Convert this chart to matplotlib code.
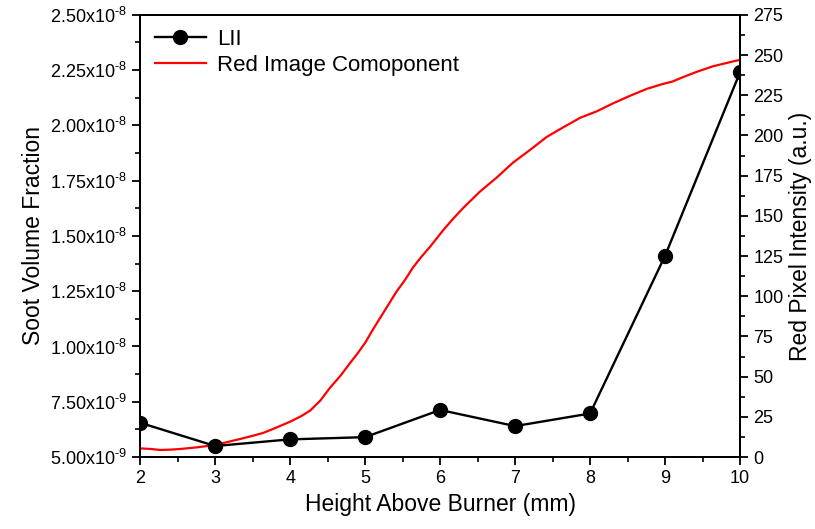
import matplotlib
matplotlib.use('Agg')
import matplotlib.pyplot as plt
from matplotlib.ticker import MultipleLocator, FuncFormatter

plt.rcParams['font.family'] = ['Liberation Sans', 'DejaVu Sans']
plt.rcParams['mathtext.fontset'] = 'custom'
plt.rcParams['mathtext.rm'] = 'Liberation Sans'

# LII soot volume fraction (left axis)
lii_x = [2, 3, 4, 5, 6, 7, 8, 9, 10]
lii_y = [6.55e-9, 5.5e-9, 5.8e-9, 5.9e-9, 7.13e-9, 6.4e-9, 6.97e-9, 1.41e-8, 2.24e-8]

# red image component (right axis)
red_x = [2.0, 2.15, 2.27, 2.4, 2.53, 2.75, 3.0, 3.15, 3.33, 3.5, 3.64, 3.8, 4.0,
         4.15, 4.27, 4.4, 4.53, 4.67, 4.8, 4.9, 5.0, 5.1, 5.2, 5.3, 5.42, 5.53,
         5.64, 5.75, 5.87, 6.04, 6.17, 6.31, 6.53, 6.76, 6.97, 7.2, 7.42, 7.64,
         7.87, 8.09, 8.31, 8.53, 8.76, 8.97, 9.1, 9.2, 9.42, 9.64, 9.87, 10.0]
red_y = [5.4, 5.0, 4.4, 4.6, 5.0, 6.0, 7.5, 9.2, 11.2, 13.2, 15.0, 18.0, 22.0,
         25.5, 29.0, 35.0, 43.0, 50.5, 58.5, 64.5, 71.0, 79.0, 86.5, 94.0, 103.0,
         110.0, 118.0, 124.5, 131.0, 141.0, 148.0, 155.0, 165.0, 174.0, 183.0,
         191.0, 199.0, 205.0, 211.0, 215.0, 220.0, 224.6, 229.0, 232.0, 233.5,
         235.5, 239.5, 243.0, 245.6, 247.0]


def sci_fmt(v, pos):
    exp = -8 if v >= 1e-8 - 1e-15 else -9
    mant = v / 10.0 ** exp
    return '%.2fx10$^{\\text{%d}}$' % (mant, exp)


fig = plt.figure(figsize=(8.15, 5.29), dpi=100)
ax = fig.add_axes([0.172, 0.136, 0.736, 0.836])
ax2 = ax.twinx()

l1, = ax.plot(lii_x, lii_y, color='black', lw=1.7, marker='o', markersize=10,
              label='LII', zorder=3)
l2, = ax2.plot(red_x, red_y, color='red', lw=1.6, label='Red Image Comoponent')
ax.set_zorder(ax2.get_zorder() + 1)
ax.patch.set_visible(False)

ax.set_xlim(2, 10)
ax.set_ylim(5e-9, 2.5e-8)
ax2.set_ylim(0, 275)

ax.xaxis.set_major_locator(MultipleLocator(1))
ax.xaxis.set_minor_locator(MultipleLocator(0.5))
ax.yaxis.set_major_locator(MultipleLocator(2.5e-9))
ax.yaxis.set_minor_locator(MultipleLocator(1.25e-9))
ax.yaxis.set_major_formatter(FuncFormatter(sci_fmt))
ax2.yaxis.set_major_locator(MultipleLocator(25))
ax2.yaxis.set_minor_locator(MultipleLocator(12.5))

for a in (ax, ax2):
    a.tick_params(which='major', length=6, width=1.3, labelsize=13, direction='out')
    a.tick_params(which='minor', length=3.5, width=1.2, direction='out')
    for s in a.spines.values():
        s.set_linewidth(1.4)

ax.set_xlabel('Height Above Burner (mm)', fontsize=16.5)
ax.set_ylabel('Soot Volume Fraction', fontsize=16.5)
ax2.set_ylabel('Red Pixel Intensity (a.u.)', fontsize=16.5)

ax.legend(handles=[l1, l2], loc='upper left', frameon=False, fontsize=16,
          handlelength=2.3, handletextpad=0.5, borderaxespad=0.25, labelspacing=0.2)

fig.savefig('out.png', dpi=100)
